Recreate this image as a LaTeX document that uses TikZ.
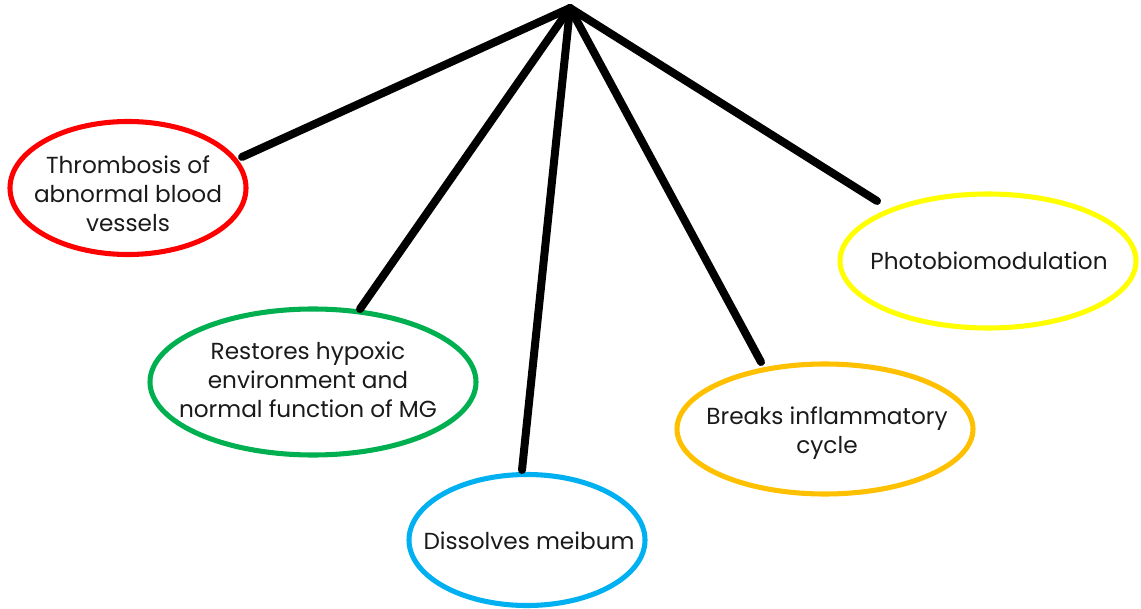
\documentclass[tikz,border=0pt]{standalone}
\usepackage{fontspec}
\setmainfont{Poppins}
\usetikzlibrary{shapes.geometric}
\definecolor{cred}{HTML}{FF0000}
\definecolor{cgreen}{HTML}{00B050}
\definecolor{cblue}{HTML}{00B0F0}
\definecolor{corange}{HTML}{FFC000}
\definecolor{cyellow}{HTML}{FFFF00}
\definecolor{ctext}{HTML}{1A1A1A}
\tikzset{
  bubble/.style={ellipse, draw=#1, line width=3.8pt, inner sep=0pt},
  txt/.style={align=center, text=ctext, inner sep=0pt,
    font=\fontsize{17.4}{21.75}\selectfont},
  spoke/.style={line width=6pt, line cap=round, black}
}
\begin{document}
\begin{tikzpicture}[x=0.75pt,y=-0.75pt]
\useasboundingbox (0,0) rectangle (1141,609);
\node[bubble=cred, minimum width=236*0.75pt, minimum height=133*0.75pt] (red) at (128,188) {};
\node[bubble=cgreen, minimum width=326*0.75pt, minimum height=146*0.75pt] (green) at (313,382) {};
\node[bubble=cblue, minimum width=236*0.75pt, minimum height=131*0.75pt] (blue) at (527,540) {};
\node[bubble=corange, minimum width=296*0.75pt, minimum height=130*0.75pt] (orange) at (825,429) {};
\node[bubble=cyellow, minimum width=296*0.75pt, minimum height=134*0.75pt] (yellow) at (988,261) {};
\node[txt] (redtxt) at ([shift={(0,6)}]red.center) {Thrombosis of\\abnormal blood\\vessels};
\node[txt] (greentxt) at ([shift={(-5,-2)}]green.center) {Restores hypoxic\\environment and\\normal function of MG};
\node[txt] (bluetxt) at ([shift={(2,1)}]blue.center) {Dissolves meibum};
\node[txt] (orangetxt) at ([shift={(2,4)}]orange.center) {Breaks inflammatory\\cycle};
\node[txt] (yellowtxt) at ([shift={(1,0)}]yellow.center) {Photobiomodulation};
\coordinate (apex) at (570,8);
\coordinate (redend) at (242,157);
\coordinate (greenend) at (360,309);
\coordinate (blueend) at (522,470);
\coordinate (orangeend) at (761,362);
\coordinate (yellowend) at (877,201);
\draw[spoke] (apex) -- (redend);
\draw[spoke] (apex) -- (greenend);
\draw[spoke] (apex) -- (blueend);
\draw[spoke] (apex) -- (orangeend);
\draw[spoke] (apex) -- (yellowend);
\end{tikzpicture}
\end{document}
